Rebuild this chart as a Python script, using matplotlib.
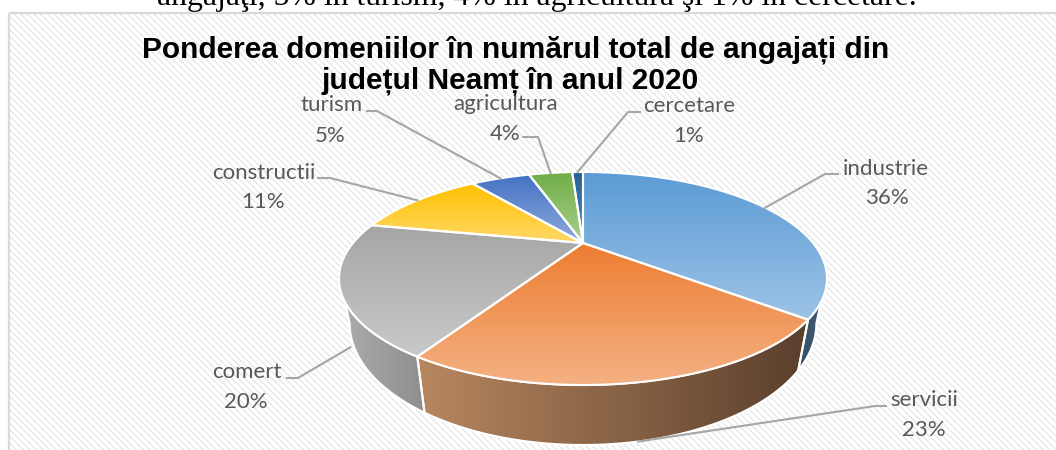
import numpy as np
import matplotlib
matplotlib.use("Agg")
import matplotlib.pyplot as plt
from matplotlib.patches import Polygon, Rectangle
from matplotlib.colors import LinearSegmentedColormap as LSC

categories = ["industrie", "servicii", "comert", "constructii", "turism", "agricultura", "cercetare"]
values = [36, 22.6, 19.6, 11.4, 5.4, 4, 1]
top_from = ["#5B9BD5", "#ED7D31", "#A5A5A5", "#FFC000", "#4472C4", "#70AD47", "#255E91"]
top_to = ["#9DC3E6", "#F4B183", "#C9C9C9", "#FFD966", "#8FAADC", "#A9D18E", "#5B8DB8"]
wall_from = {"industrie": "#2F4F6B", "servicii": "#B8875F", "comert": "#ABABAB"}
wall_to = {"industrie": "#46586A", "servicii": "#5A3F2D", "comert": "#8E8E8E"}
label_xy = {"industrie": ((886, 169), (887, 198.5)), "servicii": ((924, 400), (924, 429.5)),
            "comert": ((247, 372), (246, 401.5)), "constructii": ((264, 173), (263, 202.5)),
            "turism": ((332, 105), (330, 135.5)), "agricultura": ((506, 104), (505, 133.5)),
            "cercetare": ((689, 106), (689, 136.5))}
leader_start = {"industrie": ((838, 174), (825, 174)), "servicii": ((886, 406), (875, 406)),
                "comert": ((287, 378), (298, 378)), "constructii": ((318, 178), (330, 178)),
                "turism": ((367, 111), (377, 111)), "agricultura": ((523, 137), (538, 137)),
                "cercetare": ((640, 112), (628, 112))}

CX, AY, R, H, K = 583.0, 243.0, 230.0, 94.67, 1 / 3
R2, H2, AY2 = 220.0, 108.0, 283.0
TIP, WIDE = 121.0, 109.5  # clockwise degrees from the back where walls appear


def rim(theta, radius=R, height=H, apex=AY):
    t = np.radians(theta)
    u, v = np.sin(t), np.cos(t)
    s = 1 / (1 + K * v)
    return np.column_stack([CX + radius * u * s, apex - height * v * s])


def rim2(theta):
    return rim(theta, R2, H2, AY2)


def gradient(ax, poly, c0, c1, vertical=True, z=3):
    pts = poly.get_xy()
    x0, y0, x1, y1 = pts[:, 0].min(), pts[:, 1].min(), pts[:, 0].max(), pts[:, 1].max()
    g = np.linspace(0, 1, 256)
    g = g[:, None] if vertical else g[None, :]
    im = ax.imshow(g, cmap=LSC.from_list("g", [c0, c1]), extent=(x0, x1, y1, y0), origin="upper",
                   aspect="auto", zorder=z, interpolation="bilinear")
    ax.add_patch(poly)
    poly.set(facecolor="none", edgecolor="none")
    im.set_clip_path(poly)
    ax.add_patch(Polygon(pts, closed=True, fill=False, edgecolor="white", linewidth=1.5, zorder=z + 0.5,
                         joinstyle="round"))


plt.rcParams["hatch.linewidth"] = 0.8
fig = plt.figure(figsize=(10.56, 4.5), dpi=100, facecolor="white")
ax = fig.add_axes([0, 0, 1, 1])
ax.axis("off")

ax.text(537, 5, "angajaţi, 5% în turism, 4% în agricultură şi 1% în cercetare.", family="Liberation Serif",
        fontsize=22.9, ha="center", va="baseline", color="black", zorder=0)
ax.add_patch(Rectangle((9, 12.5), 1060, 450, facecolor="white", edgecolor="none", zorder=1))
ax.add_patch(Rectangle((9, 12.5), 1060, 450, facecolor="none", edgecolor="#E2E2E2", hatch="\\\\\\\\\\", linewidth=0, zorder=1.1))
ax.add_patch(Rectangle((9, 12.5), 1060, 450, facecolor="none", edgecolor="#D9D9D9", linewidth=1.6, zorder=1.2))

edges = np.concatenate([[0], np.cumsum(values)]) * 360.0 / sum(values)

# side walls
for i, name in enumerate(categories):
    if name not in wall_from:
        continue
    a, b = edges[i], edges[i + 1]
    if name == "industrie":
        top = np.linspace(TIP, b, 30)
        bot = np.linspace(b, WIDE, 30)
    elif name == "comert":
        top = np.linspace(a, 360 - TIP, 30)
        bot = np.linspace(360 - WIDE, a, 30)
    else:
        top = np.linspace(a, b, 80)
        bot = top[::-1]
    gradient(ax, Polygon(np.vstack([rim(top), rim2(bot)]), closed=True), wall_from[name], wall_to[name],
             vertical=False, z=3)

# top faces
for i, name in enumerate(categories):
    arc = rim(np.linspace(edges[i], edges[i + 1], max(8, int(edges[i + 1] - edges[i]) * 2)))
    gradient(ax, Polygon(np.vstack([[CX, AY], arc]), closed=True), top_from[i], top_to[i], z=5)

# leader lines and labels
total = sum(values)
for i, name in enumerate(categories):
    mid = (edges[i] + edges[i + 1]) / 2
    if name == "servicii":
        end = rim2(np.array([mid]))[0]
    elif name == "comert":
        end = rim2(np.array([mid]))[0] + np.array([0, 14])
    else:
        end = rim(np.array([mid]))[0]
    (p0, p1) = leader_start[name]
    ax.plot([p0[0], p1[0], end[0]], [p0[1], p1[1], end[1]], color="#A6A6A6", lw=1.5, zorder=7,
            solid_joinstyle="round")
    (l0, l1) = label_xy[name]
    ax.text(*l0, name, family="Lato", fontsize=16, color="#595959", ha="center", va="center", zorder=8)
    ax.text(*l1, f"{round(100 * values[i] / total)}%", family="Lato", fontsize=16, color="#595959",
            ha="center", va="center", zorder=8)

ax.text(516, 50, "Ponderea domeniilor în numărul total de angajați din", family="Liberation Sans",
        fontweight="bold", fontsize=21.5, color="black", ha="center", va="center", zorder=9)
ax.text(510, 81, "județul Neamț în anul 2020", family="Liberation Sans",
        fontweight="bold", fontsize=21.5, color="black", ha="center", va="center", zorder=9)

ax.set_xlim(0, 1056)
ax.set_ylim(450, 0)
fig.savefig("out.png", dpi=100)
